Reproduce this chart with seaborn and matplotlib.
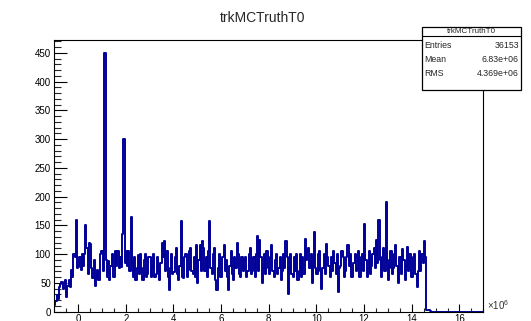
import numpy as np
import pandas as pd
import matplotlib
matplotlib.use("Agg")
import matplotlib.pyplot as plt
from matplotlib.patches import Rectangle
from matplotlib.lines import Line2D
from matplotlib.ticker import MultipleLocator
import seaborn as sns

# ---- data (x in units of 1e6, bin width 0.05e6 starting at -1e6) ----
hist_name = "trkMCTruthT0"
bin_start = -1.0
bin_width = 0.05
counts = [
    12, 18, 28, 22, 42, 48, 52, 40, 50, 55,            # -1.0
    26, 45, 55, 42, 72, 60, 100, 95, 160, 75,          # -0.5
    78, 95, 72, 100, 80, 100, 150, 110, 65, 120,       # 0.0
    118, 75, 58, 90, 45, 60, 72, 55, 100, 105,         # 0.5
    105, 70, 450, 90, 60, 88, 55, 80, 100, 60,         # 1.0
    60, 105, 80, 105, 75, 95, 78, 135, 300, 85,        # 1.5
    105, 80, 105, 70, 165, 85, 60, 95, 55, 75,         # 2.0
    98, 65, 100, 75, 55, 90, 100, 60, 65, 95,          # 2.5
    95, 60, 78, 100, 60, 65, 95, 70, 55, 85,           # 3.0
    120, 95, 122, 70, 105, 60, 37, 75, 100, 65,        # 3.5
    68, 95, 110, 65, 55, 80, 158, 60, 58, 95,          # 4.0
    100, 60, 72, 105, 110, 70, 65, 95, 60, 115,        # 4.5
    50, 90, 115, 70, 122, 110, 70, 95, 60, 105,        # 5.0
    158, 75, 65, 100, 110, 55, 37, 75, 100, 60,        # 5.5
    60, 95, 115, 70, 90, 60, 37, 80, 105, 65,          # 6.0
    55, 95, 75, 120, 100, 65, 60, 95, 70, 90,          # 6.5
    95, 60, 70, 100, 110, 65, 70, 95, 60, 100,         # 7.0
    132, 70, 125, 95, 50, 75, 100, 65, 105, 75,        # 7.5
    65, 95, 115, 70, 60, 90, 100, 65, 75, 95,          # 8.0
    55, 70, 100, 75, 122, 95, 30, 75, 100, 65,         # 8.5
    60, 95, 70, 100, 55, 70, 100, 60, 95, 65,          # 9.0
    127, 90, 105, 110, 75, 100, 50, 80, 139, 75,       # 9.5
    65, 100, 105, 70, 39, 75, 100, 65, 118, 95,        # 10.0
    80, 60, 95, 70, 105, 85, 65, 100, 34, 75,          # 10.5
    80, 105, 95, 60, 70, 95, 115, 80, 100, 60,         # 11.0
    60, 85, 100, 70, 75, 105, 60, 95, 100, 70,         # 11.5
    152, 90, 60, 75, 105, 65, 80, 100, 110, 75,        # 12.0
    125, 85, 160, 90, 60, 95, 110, 70, 191, 90,        # 12.5
    55, 75, 105, 65, 75, 100, 115, 80, 50, 95,         # 13.0
    95, 65, 108, 90, 55, 80, 112, 70, 100, 60,         # 13.5
    60, 95, 100, 65, 43, 70, 105, 70, 100, 85,         # 14.0
    122, 95,                                           # 14.5
    3, 2, 3, 1, 0, 0, 0, 0, 0, 0,                      # 14.6
    0, 0, 0, 0, 0, 0, 0, 0, 0, 0,                      # 15.1
    0, 0, 0, 0, 0, 0, 0, 0, 0, 0,                      # 15.6
    0, 0, 0, 0, 0, 0, 0, 0, 0, 0,                      # 16.1
    0, 0, 0, 0, 0, 0, 0, 0,                            # 16.6 .. 16.95
]
x_ticks = [0, 2, 4, 6, 8, 10, 12, 14, 16]
y_ticks = [0, 50, 100, 150, 200, 250, 300, 350, 400, 450]
stats_labels = ["Entries", "Mean", "RMS"]
stats_values = ["36153", "6.83e+06", "4.369e+06"]

n_bins = len(counts)
edges = bin_start + bin_width * np.arange(n_bins + 1)
df = pd.DataFrame({"t0": edges, "count": counts + [counts[-1]]})

# ---- style ----
sns.set_style("ticks")
plt.rcParams["font.family"] = ["Liberation Sans", "DejaVu Sans"]
plt.rcParams["mathtext.fontset"] = "custom"
plt.rcParams["mathtext.rm"] = "Liberation Sans"

W, H = 531, 321
fig = plt.figure(figsize=(W / 100, H / 100), dpi=100)

def fx(px):
    return px / W

def fy(py):
    return 1 - py / H

ax_left, ax_right, ax_top, ax_bot = 54.3, 483.3, 40.0, 311.5
ax = fig.add_axes([fx(ax_left), fy(ax_bot), fx(ax_right - ax_left), (ax_bot - ax_top) / H])

sns.lineplot(data=df, x="t0", y="count", drawstyle="steps-post",
             color="#000099", linewidth=1.4, ax=ax, estimator=None, sort=False)

ax.set_xlim(-1, 17)
ax.set_ylim(0, 472.5)
ax.set_xlabel("")
ax.set_ylabel("")
ax.set_xticks(x_ticks)
ax.set_xticklabels([str(t) for t in x_ticks])
ax.set_yticks(y_ticks)
ax.set_yticklabels([str(t) for t in y_ticks])
ax.xaxis.set_minor_locator(MultipleLocator(0.5))
ax.yaxis.set_minor_locator(MultipleLocator(10))

ax.tick_params(axis="x", which="major", direction="in", length=5.8, width=0.8,
               labelsize=7, pad=1.5, colors="black")
ax.tick_params(axis="x", which="minor", direction="in", length=2.8, width=0.8)
ax.tick_params(axis="y", which="major", direction="in", length=9.3, width=0.8,
               labelsize=7, pad=2.5, colors="black")
ax.tick_params(axis="y", which="minor", direction="in", length=4.7, width=0.8)
ax.tick_params(top=False, right=False, which="both")
for s in ax.spines.values():
    s.set_visible(True)
    s.set_color("black")
    s.set_linewidth(0.8)

ax.text(1.008, 0.025, "×10$^{6}$", transform=ax.transAxes, fontsize=7,
        ha="left", va="center", color="#333333")

# title
fig.text(fx(263), fy(18), hist_name, ha="center", va="center", fontsize=10)

# stats box
bx0, bx1, by0, by1, bsep = 421.7, 521.0, 27.3, 89.5, 36.0
fig.add_artist(Rectangle((fx(bx0), fy(by1)), fx(bx1 - bx0), (by1 - by0) / H,
                         transform=fig.transFigure, facecolor="white",
                         edgecolor="black", linewidth=0.9, zorder=10))
fig.add_artist(Line2D([fx(bx0), fx(bx1)], [fy(bsep), fy(bsep)],
                      transform=fig.transFigure, color="black",
                      linewidth=0.8, zorder=11))
fig.text(fx((bx0 + bx1) / 2), fy(31.8), hist_name, ha="center", va="center",
         fontsize=5.8, zorder=12)
row_y = [45.5, 59.5, 73.5]
for lab, val, ry in zip(stats_labels, stats_values, row_y):
    fig.text(fx(424.5), fy(ry), lab, ha="left", va="center", fontsize=6.3, zorder=12)
    fig.text(fx(519.0), fy(ry), val, ha="right", va="center", fontsize=6.3, zorder=12)

fig.savefig("out.png", dpi=100)
